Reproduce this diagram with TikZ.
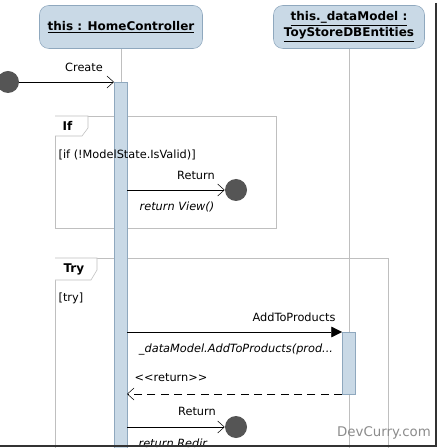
\documentclass[tikz,border=0pt]{standalone}
\usepackage{fontspec}
\setmainfont{DejaVu Sans}[Ligatures=TeXOff]
\usetikzlibrary{arrows.meta}
\definecolor{lb}{HTML}{C9D9E6}
\definecolor{lbd}{HTML}{8FA8BE}
\definecolor{dot}{HTML}{555555}
\begin{document}
\begin{tikzpicture}[x=0.75pt,y=-0.75pt,
 head/.style={draw=lbd,fill=lb,rounded corners=7pt,align=center,font=\bfseries\small},
 act/.style={draw=lbd,fill=lb},
 frame/.style={draw=black!25},
 end/.style={circle,fill=dot,minimum size=16.5pt,inner sep=0},
 msg/.style={font=\fontsize{8.5}{10}\selectfont},
 it/.style={font=\fontsize{8.5}{10}\selectfont\itshape},
 open/.style={-{Straight Barb[length=5pt,width=9pt]}},
 every node/.style={inner sep=1pt}]
\clip (0,0) rectangle (439,448);
\fill[white] (0,0) rectangle (439,448);
% frames
\draw[frame] (55,116) rectangle (276,228);
\draw[frame,fill=white] (55,116) -- (88,116) -- (88,128) -- (82,136) -- (55,136);
\node[font=\bfseries\small,anchor=west] (iftab) at (61,126) {If};
\draw[frame] (55,258) rectangle (388,460);
\draw[frame,fill=white] (55,258) -- (97,258) -- (97,270) -- (91,280) -- (55,280);
\node[font=\bfseries\small,anchor=west] (trytab) at (62,269) {Try};
\node[msg,anchor=west] (tryg) at (57,298) {[try]};
% heads and lifelines
\node[head,minimum width=163*0.75pt,minimum height=43*0.75pt] (h1) at (121,27) {\underline{this : HomeController}};
\node[head,minimum width=151*0.75pt,minimum height=43*0.75pt] (h2) at (349,27) {\underline{this.\_dataModel :}\\[1pt]\underline{ToyStoreDBEntities}};
\coordinate (l1e) at (121,448);
\coordinate (l2e) at (349,448);
\draw[black!25] (h1.south) -- (l1e);
\draw[black!25] (h2.south) -- (l2e);
% activations
\draw[act] (114,82) rectangle (127,460);
\draw[act] (342,332) rectangle (355,394);
\node[msg,anchor=west] (guard) at (57,155) {[if (!ModelState.IsValid)]};
% create
\node[end] (s) at (8,82) {};
\coordinate (c1) at (114,82);
\draw[open] (s) -- (c1);
\node[msg] (create) at (84,67) {Create};
% if return
\coordinate (r1) at (127,190);
\node[end] (e1) at (236,190) {};
\draw[open] (r1) -- (e1);
\node[msg] (ret1) at (196,175) {Return};
\node[it] (rv) at (177,207) {return View()};
% add to products
\coordinate (a1) at (127,332);
\coordinate (a2) at (342,332);
\draw[-{Triangle[length=8pt,width=8pt]}] (a1) -- (a2);
\node[msg] (atp) at (294,317) {AddToProducts};
\node[it] (call) at (236,350) {\_dataModel.AddToProducts(prod...};
\coordinate (b1) at (342,394);
\coordinate (b2) at (127,394);
\draw[open,dashed,dash pattern=on 6pt off 4pt] (b1) -- (b2);
\node[msg] (rr) at (171,378) {<<return>>};
% try return
\coordinate (r2) at (127,427);
\node[end] (e2) at (236,427) {};
\draw[open] (r2) -- (e2);
\node[msg] (ret2) at (197,411) {Return};
\node[it,anchor=west] (rd) at (137,443) {return Redir};
\node[font=\normalsize,text=black!45] (wm) at (384,433) {DevCurry.com};
% screenshot border
\draw[black!80,line width=1.2pt] (436,3) -- (436,446) -- (0,446);
\end{tikzpicture}
\end{document}
